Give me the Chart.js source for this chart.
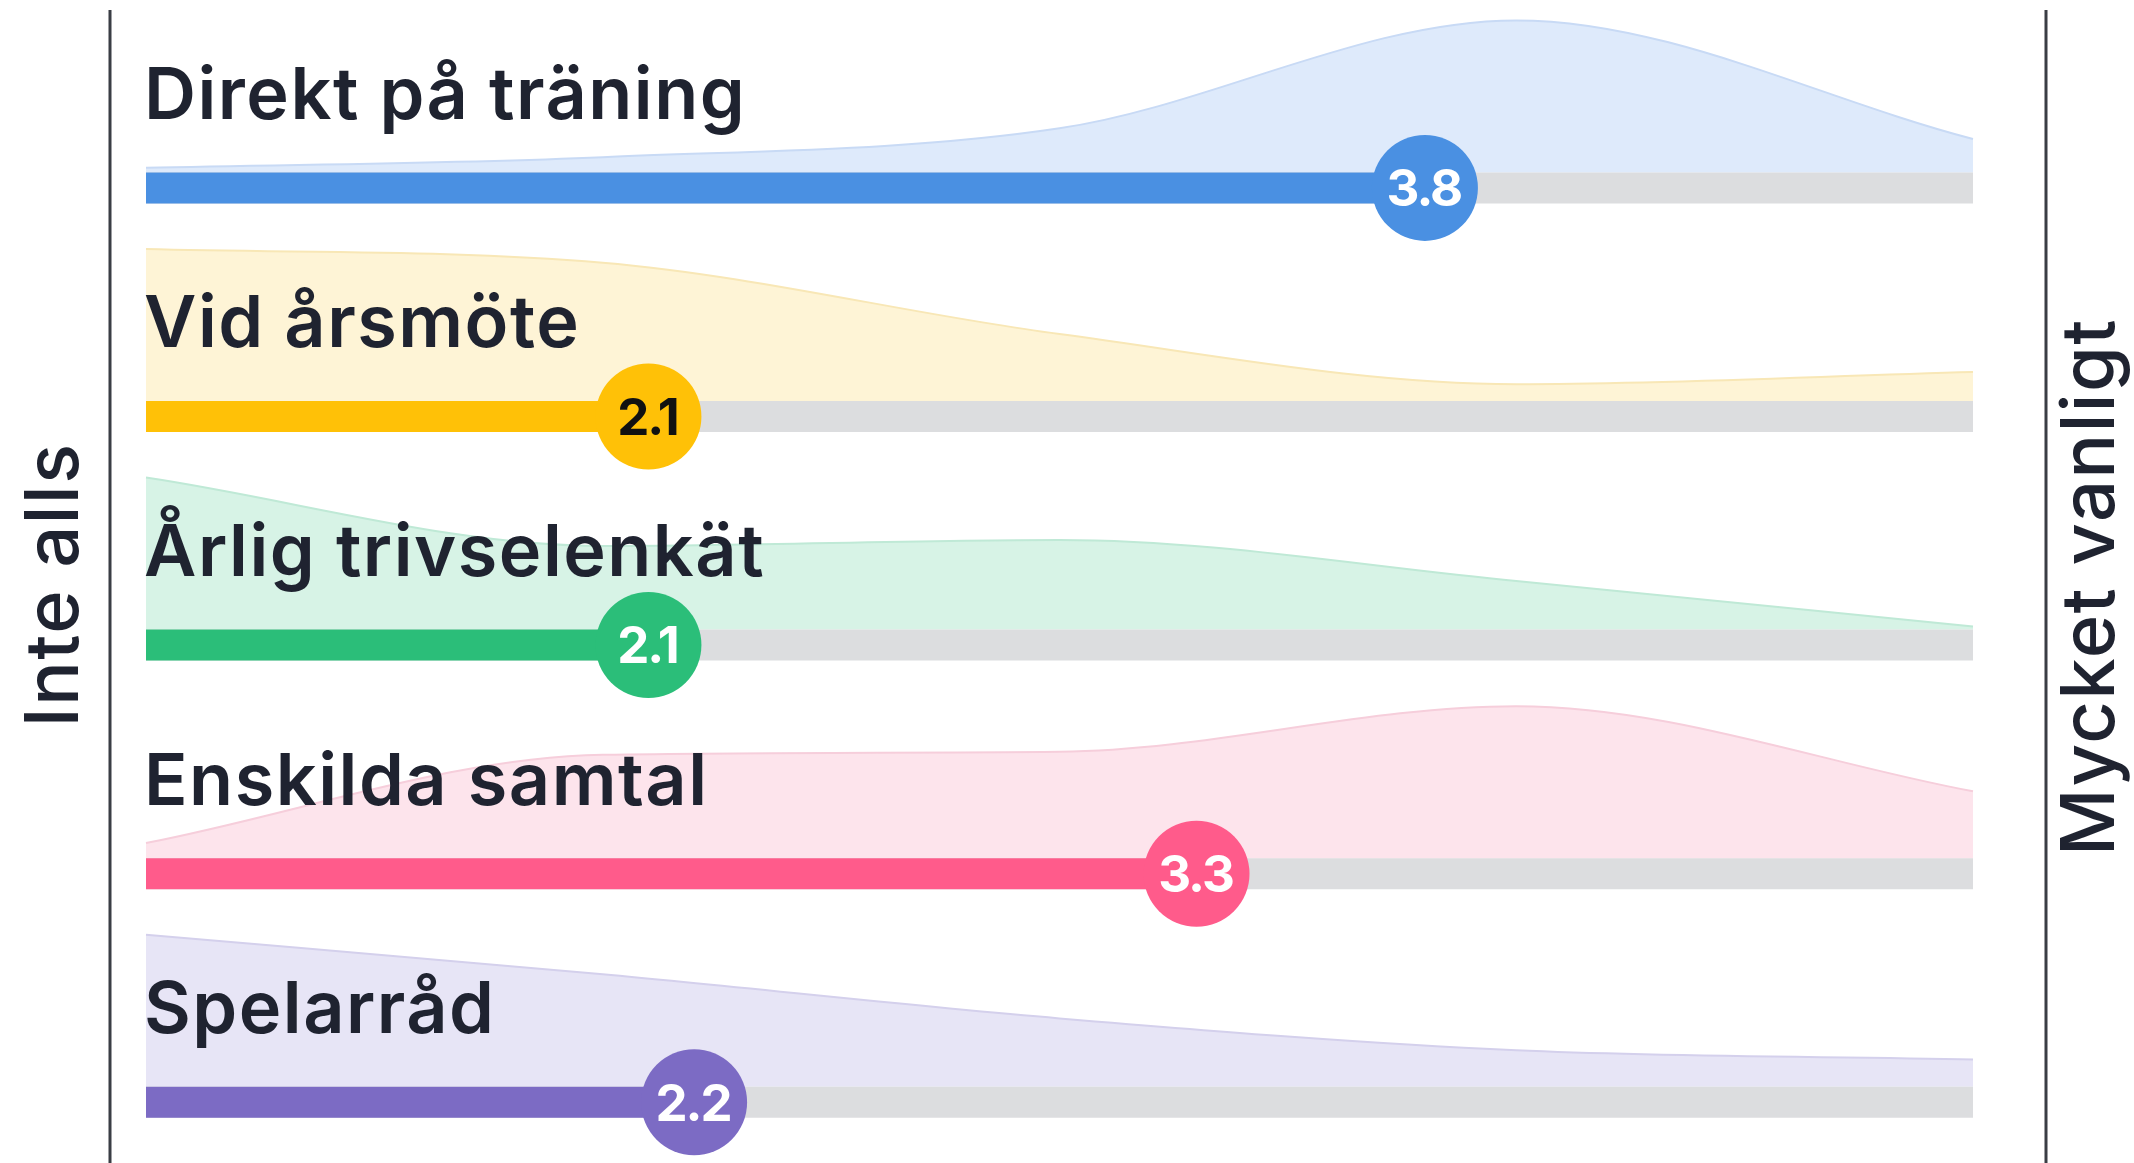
<!DOCTYPE html>
<html>
<head>
<meta charset="utf-8">
<script src="https://cdn.jsdelivr.net/npm/chart.js@4"></script>
<style>
  html, body { margin: 0; padding: 0; background: #ffffff; }
  #wrap { width: 2134px; height: 1163px; position: relative; }
  canvas { display: block; }
</style>
</head>
<body>
<div id="wrap"><canvas id="c" width="2134" height="1163"></canvas></div>
<script>
// ---- data ----
const categories = ['Direkt på träning', 'Vid årsmöte', 'Årlig trivselenkät', 'Enskilda samtal', 'Spelarråd'];
const means = [3.8, 2.1, 2.1, 3.3, 2.2];
const scalePoints = [1, 2, 3, 4, 5];
const distDirekt    = [0.03, 0.10, 0.29, 1.00, 0.22];
const distArsmote   = [1.00, 0.91, 0.44, 0.11, 0.19];
const distEnkat     = [1.00, 0.55, 0.59, 0.32, 0.02];
const distSamtal    = [0.10, 0.68, 0.70, 1.00, 0.44];
const distSpelarrad = [1.00, 0.74, 0.45, 0.24, 0.18];
const distributions = [distDirekt, distArsmote, distEnkat, distSamtal, distSpelarrad];
const axisLabels = ['Inte alls', 'Mycket vanligt'];

// ---- styles ----
const barColors  = ['#4A90E2', '#FFC107', '#2BBE79', '#FF5B8B', '#7C6BC4'];
const areaColors = ['#DEEAFB', '#FEF4D6', '#D7F3E6', '#FDE4EC', '#E7E5F6'];
const areaLines  = ['#C8DAF5', '#F8E7B6', '#BFE9D6', '#F6CEDB', '#D4D0EC'];
const circleText = ['#ffffff', '#111111', '#ffffff', '#ffffff', '#ffffff'];
const trackColor = '#DCDDDF';
const textColor  = '#1F2330';
const FONT = 'Inter, "Noto Sans", sans-serif';

const N = categories.length;
const ROW_PX = 228.6;           // pixel height of one row band
const BAR_PX = 31;              // bar thickness
const BAR_OFF = 0.2;            // bar centre inside band (units)
const AREA_BASE = BAR_OFF + (BAR_PX / 2) / ROW_PX;
const AREA_AMP = 152 / ROW_PX;

const datasets = [];
for (let i = 0; i < N; i++) {
  const base = N - 1 - i;
  const yc = base + BAR_OFF;
  datasets.push({
    type: 'line',
    data: scalePoints.map((v, k) => ({ x: v, y: base + AREA_BASE + distributions[i][k] * AREA_AMP })),
    borderColor: areaLines[i],
    borderWidth: 2,
    backgroundColor: areaColors[i],
    fill: { value: base + AREA_BASE },
    cubicInterpolationMode: 'monotone',
    pointRadius: 0,
    clip: false,
    order: 10
  });
  datasets.push({
    type: 'line',
    data: [{ x: scalePoints[0], y: yc }, { x: scalePoints[scalePoints.length - 1], y: yc }],
    borderColor: trackColor,
    borderWidth: BAR_PX,
    borderCapStyle: 'butt',
    pointRadius: 0,
    fill: false,
    clip: false,
    order: 8
  });
  datasets.push({
    type: 'line',
    data: [{ x: scalePoints[0], y: yc }, { x: means[i], y: yc }],
    borderColor: barColors[i],
    borderWidth: BAR_PX,
    borderCapStyle: 'butt',
    pointRadius: 0,
    fill: false,
    clip: false,
    order: 6
  });
  datasets.push({
    type: 'scatter',
    data: [{ x: means[i], y: yc }],
    backgroundColor: barColors[i],
    borderWidth: 0,
    pointRadius: 53,
    pointHoverRadius: 53,
    clip: false,
    order: 4
  });
}

const overlay = {
  id: 'overlay',
  beforeDatasetsDraw(chart) {
    const ctx = chart.ctx;
    const ca = chart.chartArea;
    ctx.save();
    ctx.strokeStyle = '#3A3D44';
    ctx.lineWidth = 3;
    ctx.beginPath();
    ctx.moveTo(ca.left - 36, 10); ctx.lineTo(ca.left - 36, chart.height);
    ctx.moveTo(ca.right + 73, 10); ctx.lineTo(ca.right + 73, chart.height);
    ctx.stroke();
    ctx.restore();
  },
  afterDatasetsDraw(chart) {
    const ctx = chart.ctx;
    const xs = chart.scales.x, ys = chart.scales.y;
    const ca = chart.chartArea;
    const hasLS = ('letterSpacing' in ctx);
    ctx.save();
    // row labels
    ctx.fillStyle = textColor;
    ctx.font = '600 72px ' + FONT;
    ctx.textAlign = 'left';
    ctx.textBaseline = 'alphabetic';
    if (hasLS) ctx.letterSpacing = '1.5px';
    for (let i = 0; i < N; i++) {
      const yc = ys.getPixelForValue(N - 1 - i + BAR_OFF);
      ctx.fillText(categories[i], xs.getPixelForValue(scalePoints[0]) - 2, yc - 69);
    }
    // mean labels
    ctx.font = '700 51px ' + FONT;
    ctx.textAlign = 'center';
    ctx.textBaseline = 'middle';
    if (hasLS) ctx.letterSpacing = '-2px';
    for (let i = 0; i < N; i++) {
      const yc = ys.getPixelForValue(N - 1 - i + BAR_OFF);
      ctx.fillStyle = circleText[i];
      ctx.fillText(means[i].toFixed(1), xs.getPixelForValue(means[i]) - 1, yc + 3);
    }
    // side titles
    ctx.fillStyle = textColor;
    ctx.font = '500 74px ' + FONT;
    ctx.textBaseline = 'alphabetic';
    if (hasLS) ctx.letterSpacing = '1.5px';
    ctx.save();
    ctx.translate(ca.left - 68, 585);
    ctx.rotate(-Math.PI / 2);
    ctx.fillText(axisLabels[0], 0, 0);
    ctx.restore();
    ctx.save();
    ctx.translate(ca.right + 141, 587);
    ctx.rotate(-Math.PI / 2);
    ctx.fillText(axisLabels[1], 0, 0);
    ctx.restore();
    if (hasLS) ctx.letterSpacing = '0px';
    ctx.restore();
  }
};

new Chart(document.getElementById('c'), {
  type: 'line',
  data: { datasets },
  options: {
    responsive: false,
    animation: false,
    events: [],
    layout: { autoPadding: false, padding: { left: 146, right: 161, top: 5, bottom: 15 } },
    plugins: { legend: { display: false }, tooltip: { enabled: false }, title: { display: false } },
    scales: {
      x: { type: 'linear', min: scalePoints[0], max: scalePoints[scalePoints.length - 1], display: false },
      y: { type: 'linear', min: 0, max: N, display: false }
    }
  },
  plugins: [overlay]
});
</script>
</body>
</html>
